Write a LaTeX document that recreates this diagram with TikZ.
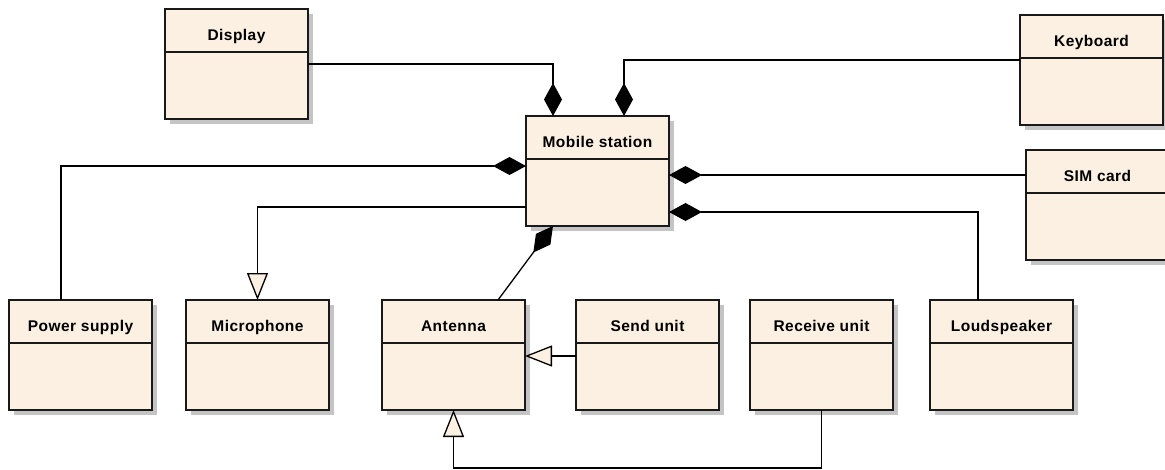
\documentclass[tikz,border=0pt]{standalone}
\usepackage{fontspec}
\setmainfont{Liberation Sans}
\newfontfamily\classfont[LetterSpace=3]{Liberation Sans}
\usetikzlibrary{arrows.meta,shadows,calc}
\definecolor{cream}{HTML}{FBF0E1}
\definecolor{shade}{HTML}{C4C4C4}
\tikzset{
  cls/.style={draw=black!90, line width=1.6pt, fill=cream, minimum width=143pt, minimum height=110pt,
    inner sep=0pt, outer sep=0pt,
    drop shadow={shadow xshift=5pt, shadow yshift=-5pt, fill=shade, opacity=1}},
  divider/.style={draw=black!90, line width=1.6pt},
  title/.style={font=\classfont\bfseries\fontsize{15.5}{18}\selectfont, inner sep=0pt, anchor=base},
  conn/.style={draw=black, line width=1.3pt},
  comp/.style={conn, -{Diamond[length=33pt,width=18pt]}},
  gen/.style={conn, -{Triangle[length=27pt,width=21pt,fill=cream]}}
}
\newcommand\umlclass[4]{%
  \node[cls] (#1) at (#2,#3) {};
  \draw[divider] ($(#1.north west)+(0,43)$) -- ($(#1.north east)+(0,43)$);
  \node[title] (#1-t) at ($(#1.north)+(0,31)$) {#4};
}
\begin{document}
\begin{tikzpicture}[x=1pt,y=-1pt]
\useasboundingbox (0,0) rectangle (1165,469);
\umlclass{disp}{236.5}{64}{Display}
\umlclass{mob}{597.5}{171}{Mobile station}
\umlclass{kbd}{1091.5}{70}{Keyboard}
\umlclass{sim}{1097.5}{205}{SIM card}
\umlclass{pow}{80.5}{355}{Power supply}
\umlclass{mic}{257.5}{355}{Microphone}
\umlclass{ant}{453.5}{355}{Antenna}
\umlclass{send}{647.5}{355}{Send unit}
\umlclass{recv}{821.5}{355}{Receive unit}
\umlclass{loud}{1001.5}{355}{Loudspeaker}
% connectors
\coordinate (dispin) at ($(mob.north west)+(27,0)$);
\coordinate (kbdin) at ($(mob.north west)+(98,0)$);
\coordinate (kbdout) at ($(kbd.west)+(0,-10)$);
\coordinate (powout) at ($(pow.north)+(-19.5,0)$);
\coordinate (powin) at ($(mob.west)+(0,-5)$);
\coordinate (micout) at ($(mob.west)+(0,36)$);
\coordinate (simout) at ($(sim.west)+(0,-30)$);
\coordinate (loudout) at ($(loud.north)+(-23.5,0)$);
\coordinate (loudin) at ($(mob.east)+(0,41)$);
\coordinate (antout) at ($(ant.north)+(44.5,0)$);
\coordinate (antin) at ($(mob.south west)+(27,0)$);
\coordinate (sendout) at ($(send.west)+(0,1)$);
\coordinate (recvbot) at ($(recv.south)+(0,58)$);
\draw[comp] (disp.east) -| (dispin);
\draw[comp] (kbdout) -| (kbdin);
\draw[comp] (powout) |- (powin);
\draw[gen] (micout) -| (mic.north);
\draw[comp] (simout) -- (mob.east |- simout);
\draw[comp] (loudout) |- (loudin);
\draw[comp] (antout) -- (antin);
\draw[gen] (sendout) -- (ant.east |- sendout);
\draw[gen] (recv.south) -- (recvbot) -| (ant.south);
\end{tikzpicture}
\end{document}
